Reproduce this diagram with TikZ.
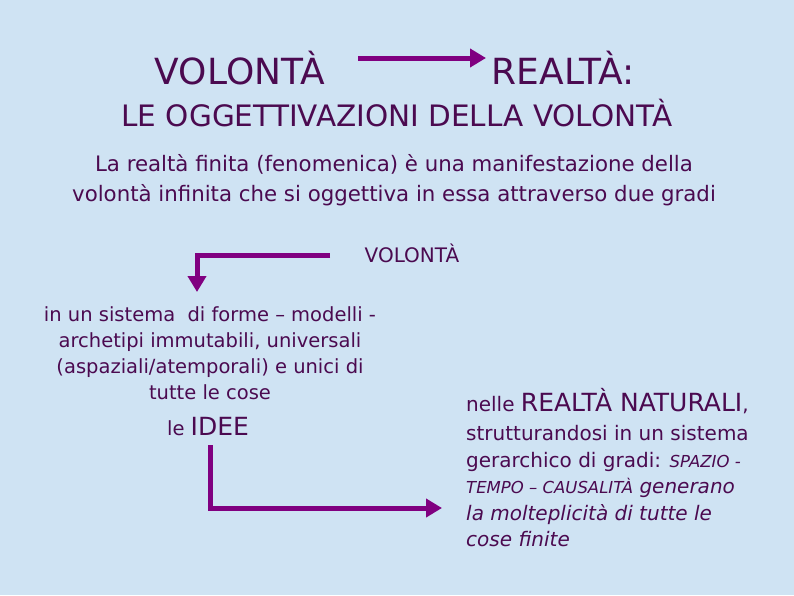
\documentclass[tikz,border=0pt]{standalone}
\usepackage{fontspec}
\setmainfont{DejaVu Sans}
\usetikzlibrary{arrows.meta}
\definecolor{bg}{RGB}{207,227,243}
\definecolor{txt}{RGB}{75,10,80}
\definecolor{arr}{RGB}{128,0,128}
\begin{document}
\begin{tikzpicture}[x=1pt,y=-1pt,
  t/.style={text=txt,inner sep=0pt},
  conn/.style={draw=arr,line width=5pt,-{Triangle[length=16pt,width=18pt]}}]
\fill[bg] (0,0) rectangle (794,595);
\useasboundingbox (0,0) rectangle (794,595);
\node[t,font=\fontsize{36}{40}\selectfont] (v1) at (240,68) {VOLONTÀ};
\node[t,font=\fontsize{36}{40}\selectfont] (r1) at (563,68) {REALTÀ:};
\coordinate (a1) at (358,58);
\coordinate (a2) at (486,58);
\draw[conn] (a1) -- (a2);
\node[t,font=\fontsize{29.5}{32}\selectfont] (sub) at (397,113) {LE OGGETTIVAZIONI DELLA VOLONTÀ};
\node[t,font=\fontsize{21.3}{30}\selectfont,align=center] (par) at (394,180) {La realtà finita (fenomenica) è una manifestazione della\\volontà infinita che si oggettiva in essa attraverso due gradi};
\node[t,font=\fontsize{20}{24}\selectfont] (v2) at (412,253) {VOLONTÀ};
\coordinate (c1) at (330,255);
\coordinate (c2) at (197,255);
\coordinate (c3) at (197,292);
\draw[conn] (c1) -- (c2) -- (c3);
\node[t,font=\fontsize{19.5}{26}\selectfont,align=center,anchor=north] (left) at (210,306) {in un sistema \ di forme – modelli -\\archetipi immutabili, universali\\(aspaziali/atemporali) e unici di\\tutte le cose};
\node[t,font=\fontsize{19.5}{26}\selectfont] (idee) at (208,427) {le {\fontsize{25}{26}\selectfont IDEE}};
\coordinate (d1) at (210,445);
\coordinate (d2) at (210,508);
\coordinate (d3) at (442,508);
\draw[conn] (d1) -- (d2) -- (d3);
\node[t,font=\fontsize{20}{26.5}\selectfont,align=left,anchor=north west] (right) at (466,388)
 {nelle {\fontsize{25}{26}\selectfont REALTÀ NATURALI},\\[3pt]
  strutturandosi in un sistema\\
  gerarchico di gradi: {\itshape\fontsize{16.5}{20}\selectfont SPAZIO -}\\
  {\itshape{\fontsize{16.5}{20}\selectfont TEMPO – CAUSALITÀ} generano}\\
  {\itshape la molteplicità di tutte le}\\
  {\itshape cose finite}};
\end{tikzpicture}
\end{document}
